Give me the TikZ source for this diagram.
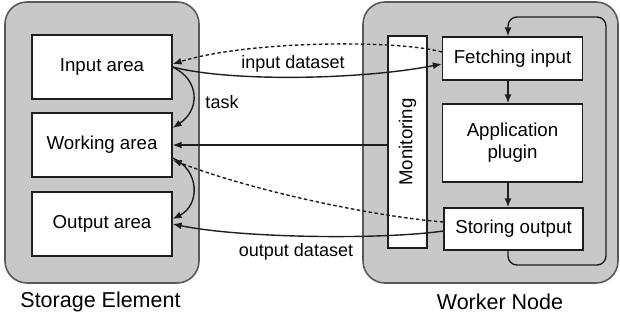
\documentclass[tikz,border=0pt]{standalone}
\usepackage{fontspec}
\setmainfont{Liberation Sans}
\usetikzlibrary{arrows.meta,calc}
\definecolor{panel}{RGB}{200,200,200}
\definecolor{panelborder}{RGB}{90,90,90}
\definecolor{ink}{RGB}{30,30,30}
\begin{document}
\begin{tikzpicture}[x=1pt,y=-1pt,
  panelbox/.style={draw=panelborder, fill=panel, line width=1.6pt, rounded corners=22pt, inner sep=0pt},
  area/.style={draw=ink, fill=white, line width=1.3pt, inner sep=0pt, align=center,
    font=\fontsize{18.7}{22}\selectfont},
  lbl/.style={inner sep=0pt, font=\fontsize{18}{20}\selectfont},
  caption/.style={inner sep=0pt, font=\fontsize{21.5}{24}\selectfont},
  conn/.style={draw=ink, line width=1.4pt, -{Latex[length=9pt,width=7pt]}},
  dashconn/.style={conn, dash pattern=on 3.5pt off 2.5pt}]
\useasboundingbox (0,0) rectangle (620,320);
% panels
\node[panelbox, minimum width=194pt, minimum height=281pt] (se) at (102,142.5) {};
\node[panelbox, minimum width=255pt, minimum height=281pt] (wn) at (490.5,142.5) {};
\node[caption] (secap) at (100.5,302) {Storage Element};
\node[caption] (wncap) at (500,302) {Worker Node};
% storage areas
\node[area, minimum width=140pt, minimum height=64pt] (in) at (102,67) {Input area};
\node[area, minimum width=140pt, minimum height=64pt] (work) at (102,145) {Working area};
\node[area, minimum width=140pt, minimum height=64pt] (out) at (102,224) {Output area};
% worker parts
\node[area, minimum width=39pt, minimum height=212pt] (mon) at (407.5,142) {};
\node[inner sep=0pt, rotate=90, font=\fontsize{18.7}{22}\selectfont] (montext) at (mon.center) {Monitoring};
\node[area, minimum width=140pt, minimum height=43pt] (fetch) at (512.5,58.5) {Fetching input};
\node[area, minimum width=140pt, minimum height=78pt] (app) at (512.5,143) {Application\\plugin};
\node[area, minimum width=139pt, minimum height=42pt] (store) at (513.5,229) {Storing output};
% connectors
\draw[dashconn] ([yshift=6.5pt]fetch.west) .. controls (400,40) and (250,40) .. ([yshift=3pt]in.east);
\draw[conn] (in.east) .. controls (230,82) and (360,80) .. ([yshift=-5.5pt]fetch.west);
\node[lbl] (lin) at (293,64) {input dataset};
\draw[conn] (mon.west |- work.east) -- (work.east);
\draw[dashconn] ([yshift=7pt]store.west) .. controls (370,216) and (250,190) .. ([yshift=-15pt]work.east);
\draw[conn] ([yshift=-2pt]store.west) .. controls (380,240) and (240,238) .. (out.east);
\node[lbl] (lout) at (296,252) {output dataset};
\draw[conn] (in.east) .. controls (200,80) and (200,110) .. ([yshift=17pt]work.east);
\draw[conn] ([yshift=-13pt]work.east) .. controls (200,170) and (200,205) .. ([yshift=5pt]out.east);
\node[lbl] (task) at (222,102) {task};
\draw[conn] ([xshift=-4.5pt]fetch.south) -- ([xshift=-4.5pt]app.north);
\draw[conn] ([xshift=-4.5pt]app.south) -- ([xshift=-5.5pt]store.north);
\draw[conn, rounded corners=9pt] ([xshift=-5.5pt]store.south) |- (606,265) |- (508,17) -- ([xshift=-4.5pt]fetch.north);
\end{tikzpicture}
\end{document}
